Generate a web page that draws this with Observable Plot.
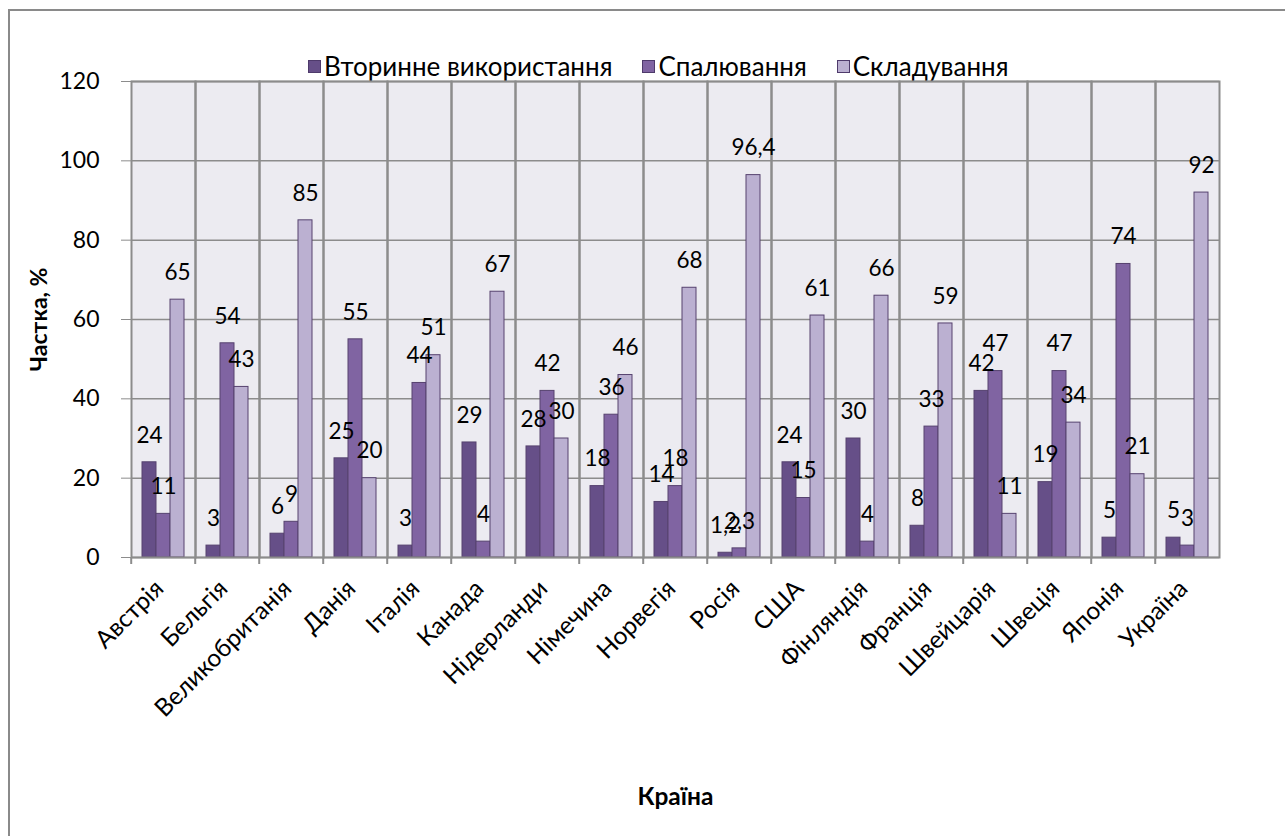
<!DOCTYPE html>
<html><head><meta charset="utf-8">
<script src="https://cdn.jsdelivr.net/npm/d3@7"></script>
<script src="https://cdn.jsdelivr.net/npm/@observablehq/plot@0.6"></script>
<style>
body{margin:0;background:#fff;}
#wrap{position:relative;width:1285px;height:836px;overflow:hidden;font-family:Lato,"Open Sans",sans-serif;color:#000;}
#border{position:absolute;left:8px;top:9px;width:1400px;height:1000px;border:2px solid #8a8a8a;box-sizing:border-box;}
#legend{position:absolute;top:52px;left:308px;display:flex;align-items:center;height:28px;font-size:26px;white-space:nowrap;}
.item{display:flex;align-items:center;margin-right:30px;}
.sw{width:11px;height:11px;border:1px solid #4e3a6b;margin-right:3px;}
#chart svg{position:absolute;left:0;top:0;overflow:visible;}
g[aria-label="y-axis label"], g[aria-label="fx-axis label"]{font-weight:bold;}
</style></head>
<body>
<div id="wrap"><div id="border"></div><div id="legend"></div><div id="chart"></div></div>
<script>
const countries = ["Австрія","Бельгія","Великобританія","Данія","Італія","Канада","Нідерланди","Німечина","Норвегія","Росія","США","Фінляндія","Франція","Швейцарія","Швеція","Японія","Україна"];
const series = ["Вторинне використання","Спалювання","Складування"];
const recycling = [24,3,6,25,3,29,28,18,14,1.2,24,30,8,42,19,5,5];
const incineration = [11,54,9,55,44,4,42,36,18,2.3,15,4,33,47,47,74,3];
const landfill = [65,43,85,20,51,67,30,46,68,96.4,61,66,59,11,34,21,92];
const yTicks = [0,20,40,60,80,100,120];
const colors = ["#664f88","#8064a2","#bbb0d1"];

const seriesValues = [recycling, incineration, landfill];
const data = countries.flatMap((c, i) => series.map((s, j) => ({country: c, series: s, value: seriesValues[j][i]})));
const fmt = v => String(v).replace(".", ",");

const W = 1285, H = 836, ML = 126, MR = 61, MT = 81, MB = 279;
const step = (W - ML - MR) / countries.length;

const chart = Plot.plot({
  width: W, height: H,
  marginTop: MT, marginBottom: MB, marginLeft: ML, marginRight: MR,
  style: {fontFamily: 'Lato, "Open Sans", sans-serif', fontSize: "22px", color: "#000", background: "transparent"},
  fx: {domain: countries, padding: 0, label: "Країна"},
  x: {domain: series, paddingInner: 0, paddingOuter: 0.75, axis: null},
  y: {domain: [0, 120], label: "Частка, %"},
  color: {domain: series, range: colors},
  marks: [
    Plot.frame({fill: "#ecebf1", stroke: null}),
    Plot.gridY(yTicks, {stroke: "#8c8c8c", strokeOpacity: 1, strokeWidth: 1.5}),
    Plot.barY(data, {fx: "country", x: "series", y: "value", fill: "series", stroke: "#56426f", strokeWidth: 1}),
    Plot.frame({stroke: "#8c8c8c", strokeWidth: 2}),
    Plot.text(data, {fx: "country", x: "series", y: "value", text: d => fmt(d.value), dy: -27, fontSize: 22.5, fill: "#000"}),
    Plot.axisY(yTicks, {tickSize: 10, tickPadding: 22, stroke: "#8c8c8c", fontSize: 23, label: "Частка, %", labelAnchor: "center", labelOffset: 101, labelArrow: false}),
    Plot.axisFx({anchor: "bottom", tickSize: 7, dx: -step / 2, stroke: "#8c8c8c", strokeWidth: 2, tickFormat: () => "", label: null}),
    Plot.axisFx({anchor: "bottom", tickSize: 0, tickPadding: 27, dx: -4, tickRotate: -45, fontSize: 24.5, label: "Країна", labelAnchor: "center", labelOffset: 247, labelArrow: false})
  ]
});
document.getElementById("chart").appendChild(chart);

const legend = document.getElementById("legend");
series.forEach((s, i) => {
  const item = document.createElement("div");
  item.className = "item";
  const sw = document.createElement("span");
  sw.className = "sw";
  sw.style.background = colors[i];
  const t = document.createElement("span");
  t.textContent = s;
  item.appendChild(sw); item.appendChild(t);
  legend.appendChild(item);
});
</script>
</body></html>
